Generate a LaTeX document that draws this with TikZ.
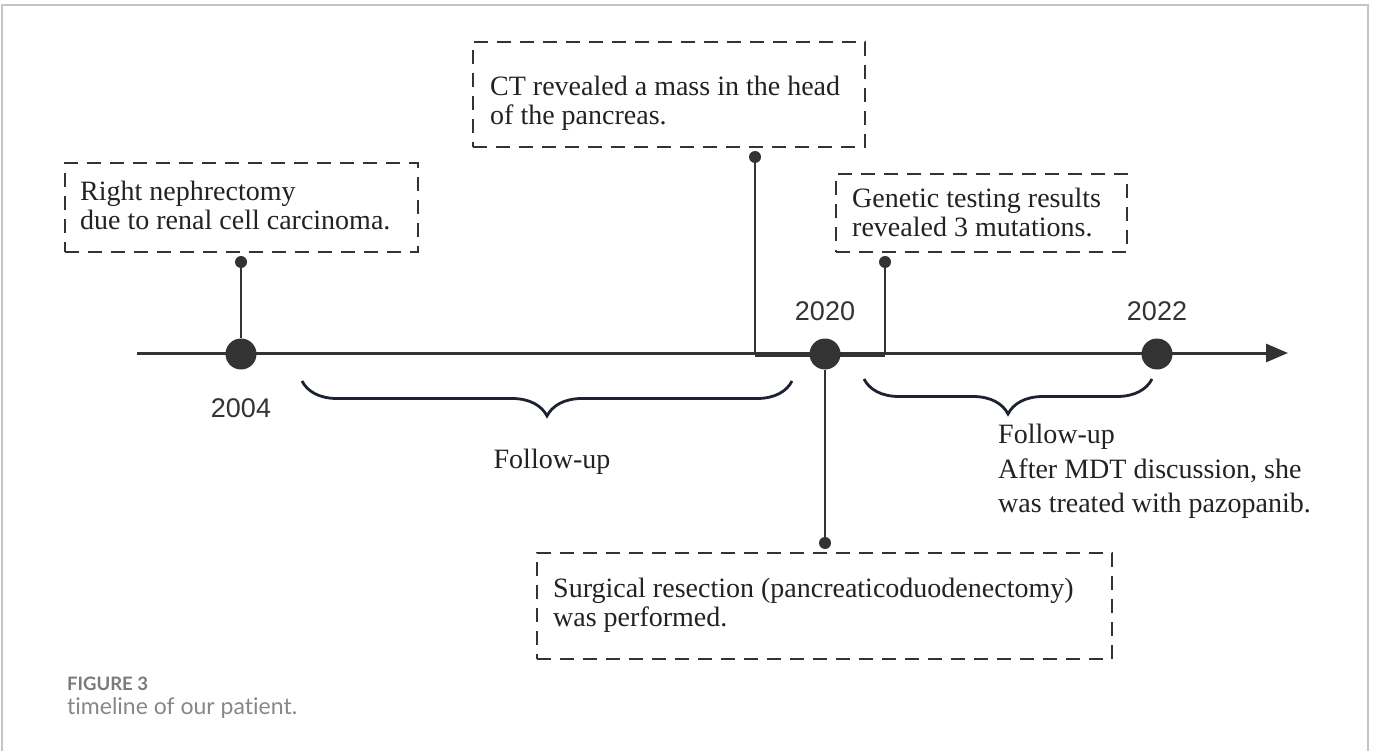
\documentclass[tikz,border=0pt]{standalone}
\usepackage{fontspec}
\setmainfont{Liberation Serif}
\newfontfamily\yearfont{Liberation Sans}
\newfontfamily\capfont[Ligatures=NoCommon]{Lato}
\usetikzlibrary{arrows.meta,decorations.pathreplacing}
\definecolor{ink}{HTML}{333333}
\definecolor{txt}{HTML}{222222}
\definecolor{bracecol}{HTML}{1C2230}
\definecolor{framecol}{HTML}{C4C4C4}
\definecolor{capgray}{HTML}{7A7A7A}
\begin{document}
\begin{tikzpicture}[x=1pt,y=-1pt,
  evbox/.style={draw=ink, line width=1.6pt, dash pattern=on 14pt off 9pt, inner sep=0pt},
  evtext/.style={align=left, inner sep=0pt, anchor=north west, font=\fontsize{28}{28.5}\selectfont, text=txt},
  bigdot/.style={circle, fill=ink, inner sep=0pt, minimum size=31pt},
  smalldot/.style={circle, fill=ink, inner sep=0pt, minimum size=12pt},
  stem/.style={draw=ink, line width=1.8pt},
  yearlabel/.style={font=\yearfont\fontsize{27}{27}\selectfont, text=ink, inner sep=0pt},
  curly/.style={draw=bracecol, line width=2.8pt, decorate, decoration={brace, mirror, amplitude=35pt}},
  note/.style={font=\fontsize{28}{34.5}\selectfont, text=txt, align=left, inner sep=0pt}
]
\useasboundingbox (0,0) rectangle (1373,751);
% frame
\draw[framecol, line width=2pt] (2,751) -- (2,5) -- (1368,5) -- (1368,751);
% axis
\coordinate (axisL) at (137,353);
\coordinate (axisR) at (1288,353);
\draw[ink, line width=3pt, -{Triangle[length=22pt,width=18pt]}] (axisL) -- (axisR);
% dots
\node[bigdot] (d2004) at (241,354) {};
\node[bigdot] (d2020) at (825,354) {};
\node[bigdot] (d2022) at (1157,354) {};
\node[smalldot] (s2004) at (241,262) {};
\node[smalldot] (sCT) at (755,157) {};
\node[smalldot] (sGen) at (885,262) {};
\node[smalldot] (sSurg) at (825,543) {};
% years
\node[yearlabel] (y2004) at (241,408) {2004};
\node[yearlabel] (y2020) at (825,311) {2020};
\node[yearlabel] (y2022) at (1157,311) {2022};
% event boxes
\node[evbox, minimum width=353pt, minimum height=89pt] (b2004) at (241.5,207.5) {};
\node[evtext] (t2004) at (80,181) {Right nephrectomy\\due to renal cell carcinoma.};
\node[evbox, minimum width=392pt, minimum height=105pt] (bCT) at (669,94.5) {};
\node[evtext] (tCT) at (490,76) {CT revealed a mass in the head\\of the pancreas.};
\node[evbox, minimum width=291pt, minimum height=78pt] (bGen) at (981.5,213) {};
\node[evtext] (tGen) at (852,188) {Genetic testing results\\revealed 3 mutations.};
\node[evbox, minimum width=575pt, minimum height=106pt] (bSurg) at (824.5,606) {};
\node[evtext] (tSurg) at (553,578) {Surgical resection (pancreaticoduodenectomy)\\was performed.};
% stems
\coordinate (ctfoot) at (755,355);
\coordinate (genfoot) at (885,355);
\draw[stem] (d2004) -- (s2004);
\draw[stem] (sCT) -- (ctfoot);
\draw[stem] (sGen) -- (genfoot);
\draw[ink, line width=3.2pt] (ctfoot) -- (genfoot);
\draw[stem] (d2020) -- (sSurg);
% braces
\coordinate (br1a) at (302,381);
\coordinate (br1b) at (792,381);
\coordinate (br2a) at (864,379);
\coordinate (br2b) at (1152,379);
\draw[curly] (br1a) -- (br1b);
\draw[curly] (br2a) -- (br2b);
% follow-up notes
\node[note, anchor=base] (f1) at (552,468) {Follow-up};
\node[note, anchor=north west] (f2) at (998,424) {Follow-up\\After MDT discussion, she\\was treated with pazopanib.};
% caption
\node[anchor=base west, inner sep=0pt, font=\capfont\bfseries\fontsize{18.5}{18.5}\selectfont, text=capgray] (capA) at (67,690) {FIGURE 3};
\node[anchor=base west, inner sep=0pt, font=\capfont\fontsize{23}{23}\selectfont, text=capgray!90] (capB) at (67,714) {timeline of our patient.};
\end{tikzpicture}
\end{document}
